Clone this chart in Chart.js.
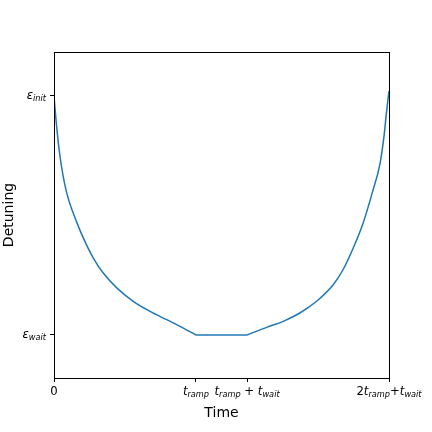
<!DOCTYPE html>
<html>
<head>
<meta charset="utf-8">
<script src="https://cdn.jsdelivr.net/npm/chart.js@4"></script>
<style>
  html, body { margin: 0; padding: 0; background: #fff; }
  #wrap { width: 432px; height: 432px; }
</style>
</head>
<body>
<div id="wrap"><canvas id="detuningChart" width="432" height="432"></canvas></div>
<script>
// time in units of t_ramp (t_wait ~ 0.36 t_ramp); detuning: 0 = eps_wait, 1 = eps_init
const rampDownTime = [0, 0.0155, 0.041, 0.0845, 0.162, 0.229, 0.277, 0.347, 0.442, 0.558, 0.676, 0.794, 0.911, 1.0];
const rampDownDetuning = [1.0, 0.891, 0.753, 0.607, 0.469, 0.377, 0.322, 0.259, 0.197, 0.141, 0.099, 0.064, 0.029, 0.0];
const waitTime = [1.0, 1.36];
const waitDetuning = [0.0, 0.0];
const rampUpTime = [1.36, 1.498, 1.615, 1.732, 1.85, 1.967, 2.037, 2.108, 2.178, 2.246, 2.296, 2.324, 2.342, 2.36];
const rampUpDetuning = [0.0, 0.032, 0.057, 0.092, 0.141, 0.210, 0.274, 0.364, 0.469, 0.603, 0.715, 0.828, 0.929, 1.021];

const xTickValues = [0, 1, 1.36, 2.36];
const yTickValues = [0, 1];

// tick labels as mathtext-like pieces: [text, style]  style: 'n' normal, 'i' italic, 's' italic subscript
const xTickLabels = [
  [['0', 'n']],
  [['t', 'i'], ['ramp', 's']],
  [['t', 'i'], ['ramp', 's'], [' + ', 'n'], ['t', 'i'], ['wait', 's']],
  [['2', 'n'], ['t', 'i'], ['ramp', 's'], ['+', 'n'], ['t', 'i'], ['wait', 's']]
];
const yTickLabels = [
  [['ε', 'i'], ['wait', 's']],
  [['ε', 'i'], ['init', 's']]
];

const FAMILY = '"DejaVu Sans", sans-serif';

function pieceFont(style) {
  if (style === 'n') return '11.7px ' + FAMILY;
  if (style === 'i') return 'italic 11.7px ' + FAMILY;
  return 'italic 8.2px ' + FAMILY;
}

function drawMath(ctx, pieces, x, y, align) {
  let total = 0;
  pieces.forEach(p => { ctx.font = pieceFont(p[1]); total += ctx.measureText(p[0]).width; });
  let cx = align === 'right' ? x - total : (align === 'center' ? x - total / 2 : x);
  ctx.textAlign = 'left';
  ctx.textBaseline = 'alphabetic';
  pieces.forEach(p => {
    ctx.font = pieceFont(p[1]);
    ctx.fillText(p[0], cx, p[1] === 's' ? y + 2 : y);
    cx += ctx.measureText(p[0]).width;
  });
}

const mathLabels = {
  id: 'mathLabels',
  afterDraw(chart) {
    const ctx = chart.ctx;
    const a = chart.chartArea;
    ctx.save();
    // frame
    ctx.strokeStyle = '#000';
    ctx.lineWidth = 1;
    ctx.strokeRect(a.left + 0.5, a.top + 0.5, a.right - a.left, a.bottom - a.top);
    ctx.fillStyle = '#000';
    xTickValues.forEach((v, i) => {
      const px = chart.scales.x.getPixelForValue(v);
      drawMath(ctx, xTickLabels[i], px, a.bottom + 16.5, 'center');
    });
    yTickValues.forEach((v, i) => {
      const py = chart.scales.y.getPixelForValue(v);
      drawMath(ctx, yTickLabels[i], 46, py + 3.5, 'right');
    });
    ctx.restore();
  }
};

function series(xs, ys) {
  return {
    data: xs.map((t, i) => ({ x: t, y: ys[i] })),
    borderColor: '#1f77b4',
    borderWidth: 1.5,
    pointRadius: 0,
    cubicInterpolationMode: 'monotone',
    fill: false
  };
}

const ctx = document.getElementById('detuningChart').getContext('2d');
const detuningChart = new Chart(ctx, {
  type: 'line',
  data: {
    datasets: [
      series(rampDownTime, rampDownDetuning),
      series(waitTime, waitDetuning),
      series(rampUpTime, rampUpDetuning)
    ]
  },
  options: {
    responsive: false,
    animation: false,
    events: [],
    layout: { padding: { top: 52, right: 43, left: 0, bottom: 0 } },
    plugins: { legend: { display: false }, tooltip: { enabled: false } },
    scales: {
      x: {
        type: 'linear',
        min: 0,
        max: 2.36,
        afterBuildTicks: s => { s.ticks = xTickValues.map(v => ({ value: v })); },
        afterFit: s => { s.height = 54; },
        ticks: { autoSkip: false, callback: () => '', color: 'rgba(0,0,0,0)' },
        grid: { drawOnChartArea: false, drawTicks: true, tickLength: 4, color: '#000' },
        border: { display: true, color: '#000' },
        title: { display: true, text: 'Time', color: '#000', font: { family: FAMILY, size: 14 }, padding: { top: 0, bottom: 10 } }
      },
      y: {
        type: 'linear',
        min: -0.18,
        max: 1.184,
        afterBuildTicks: s => { s.ticks = yTickValues.map(v => ({ value: v })); },
        afterFit: s => { s.width = 54; },
        ticks: { autoSkip: false, callback: () => '', color: 'rgba(0,0,0,0)' },
        grid: { drawOnChartArea: false, drawTicks: true, tickLength: 4, color: '#000' },
        border: { display: true, color: '#000' },
        title: { display: true, text: 'Detuning', color: '#000', font: { family: FAMILY, size: 14 }, padding: { top: 1, bottom: 0 } }
      }
    }
  },
  plugins: [mathLabels]
});
</script>
</body>
</html>
